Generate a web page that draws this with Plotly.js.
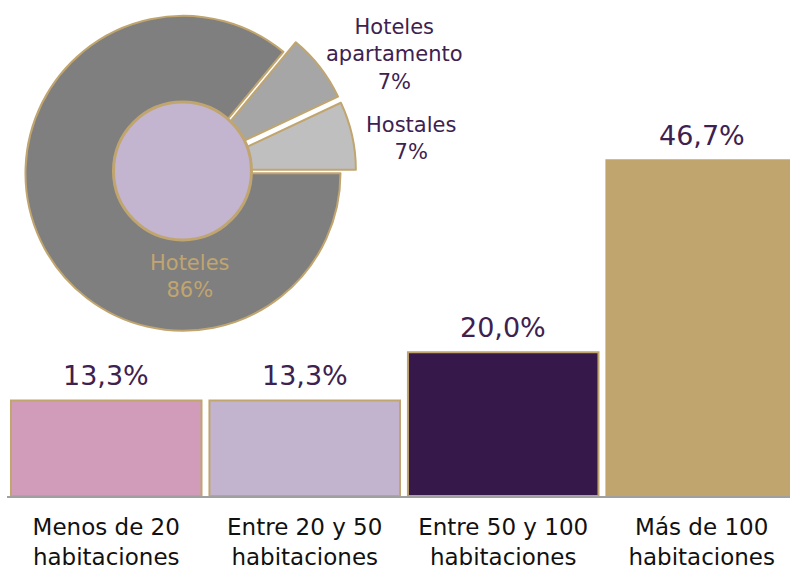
<!DOCTYPE html>
<html>
<head>
<meta charset="utf-8">
<script src="https://cdn.plot.ly/plotly-3.0.1.min.js"></script>
<style>html,body{margin:0;padding:0;background:#fff;}#chart{width:790px;height:568px;}</style>
</head>
<body>
<div id="chart"></div>
<script>
// Bar data
const categories = ['Menos de 20<br>habitaciones', 'Entre 20 y 50<br>habitaciones', 'Entre 50 y 100<br>habitaciones', 'Más de 100<br>habitaciones'];
const barValues = [13.3, 13.3, 20.0, 46.7];
const barColors = ['#d09cb9', '#c2b3cf', '#37184a', '#c1a56f'];

// Pie data
const pieLabels = ['Hoteles', 'Hoteles apartamento', 'Hostales'];
const pieValues = [86, 7, 7];
const piePull = [0, 0.1, 0.1];
const pieColors = ['#7f7f7f', '#a6a6a6', '#bfbfbf'];

const gold = '#c1a56f';
const purple = '#3d2150';

const barTrace = {
  type: 'bar',
  x: categories,
  y: barValues,
  marker: {color: barColors, line: {color: gold, width: 2}},
  hoverinfo: 'none',
  showlegend: false
};

const pieTrace = {
  type: 'pie',
  labels: pieLabels,
  values: pieValues,
  pull: piePull,
  sort: false,
  direction: 'clockwise',
  rotation: 90,
  marker: {colors: pieColors, line: {color: gold, width: 2}},
  textinfo: 'none',
  hoverinfo: 'none',
  showlegend: false,
  domain: {x: [0.0029, 0.4466], y: [0.3014, 1]}
};

const holeTrace = {
  type: 'pie',
  labels: ['centro'],
  values: [1],
  sort: false,
  marker: {colors: ['#c3b4d0'], line: {color: gold, width: 3}},
  textinfo: 'none',
  hoverinfo: 'none',
  showlegend: false,
  domain: {x: [0.136, 0.3122], y: [0.5161, 0.7943]}
};

const annotations = [];
barValues.forEach((v, i) => {
  annotations.push({
    x: categories[i], y: v, xref: 'x', yref: 'y',
    text: v.toFixed(1).replace('.', ',') + '%',
    showarrow: false, yanchor: 'middle', yshift: 25,
    font: {family: 'DejaVu Sans', size: 27, color: purple}
  });
});

const pieLabelPos = [[0.2337, 0.4435], [0.4955, 0.891], [0.516, 0.7198]];
pieLabels.forEach((lab, i) => {
  annotations.push({
    x: pieLabelPos[i][0], y: pieLabelPos[i][1], xref: 'paper', yref: 'paper',
    text: lab.replace(' ', '<br>') + '<br>' + pieValues[i] + '%',
    showarrow: false, xanchor: 'center', yanchor: 'middle',
    font: {family: 'DejaVu Sans', size: 21, color: i === 0 ? gold : purple}
  });
});

const layout = {
  width: 790, height: 568,
  margin: {l: 7, r: 0, t: 0, b: 72},
  paper_bgcolor: '#ffffff',
  plot_bgcolor: '#ffffff',
  bargap: 0.04,
  xaxis: {
    range: [-0.5, 3.445],
    showline: true, linecolor: '#a0a0a0', linewidth: 2,
    ticks: '', showgrid: false, zeroline: false,
    ticklabelstandoff: 9,
    tickfont: {family: 'DejaVu Sans', size: 23, color: '#111111'},
    fixedrange: true
  },
  yaxis: {range: [0, 69.0], visible: false, fixedrange: true},
  annotations: annotations
};

Plotly.newPlot('chart', [barTrace, pieTrace, holeTrace], layout, {displayModeBar: false, staticPlot: true});
</script>
</body>
</html>
